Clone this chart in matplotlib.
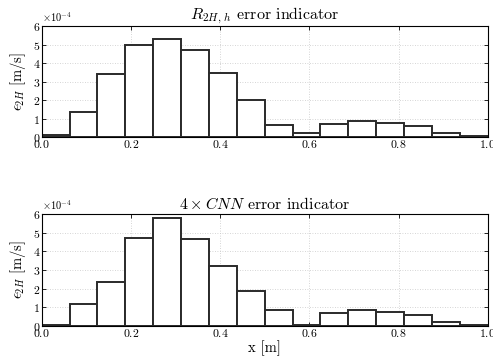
import numpy as np
import matplotlib
matplotlib.use("Agg")
import matplotlib.pyplot as plt

plt.rcParams.update({
    "font.family": "serif",
    "font.serif": ["cmr10", "DejaVu Serif"],
    "mathtext.fontset": "cm",
    "axes.formatter.use_mathtext": True,
    "axes.unicode_minus": True,
    "xtick.direction": "in",
    "ytick.direction": "in",
    "xtick.top": True,
    "ytick.right": True,
    "xtick.labelsize": 8.5,
    "ytick.labelsize": 8.5,
})

# Bin edges along x [m] (16 equal bins)
bin_edges = np.linspace(0.0, 1.0, 17)

# Error indicator per bin, in units of 1e-4 m/s
r2h_error = [0.09, 1.35, 3.40, 4.96, 5.32, 4.72, 3.44, 1.98,
             0.66, 0.24, 0.73, 0.85, 0.78, 0.62, 0.19, 0.06]
cnn_error = [0.04, 1.16, 2.36, 4.71, 5.83, 4.68, 3.21, 1.86,
             0.82, 0.04, 0.66, 0.82, 0.73, 0.57, 0.19, 0.04]

titles = [r"$R_{2H,\,h}$ error indicator", r"$4\times CNN$ error indicator"]
series = [r2h_error, cnn_error]

fig = plt.figure(figsize=(4.93, 3.58), dpi=100)
positions = [[0.0846, 0.6173, 0.9047, 0.310],
             [0.0846, 0.0902, 0.9047, 0.311]]

for pos, vals, title in zip(positions, series, titles):
    ax = fig.add_axes(pos)
    widths = np.diff(bin_edges)
    ax.bar(bin_edges[:-1], np.array(vals) * 1e-4, width=widths, align="edge",
           facecolor="white", edgecolor="#2a2a2a", linewidth=1.4, zorder=2)
    ax.set_xlim(0, 1)
    ax.set_ylim(0, 6e-4)
    ax.set_xticks([0.0, 0.2, 0.4, 0.6, 0.8, 1.0])
    ax.set_yticks(np.arange(0, 7) * 1e-4)
    ax.ticklabel_format(axis="y", style="sci", scilimits=(0, 0))
    ax.yaxis.get_offset_text().set_fontsize(7.5)
    ax.grid(True, linestyle=(0, (1, 2)), color="#c8c8c8", linewidth=0.6, zorder=0)
    ax.set_axisbelow(True)
    ax.set_title(title, fontsize=11.5, pad=4)
    ax.set_ylabel(r"$\epsilon_{2H}$ [m/s]", fontsize=10.5, labelpad=3)
    ax.tick_params(length=3, width=0.6, pad=1)
    for s in ax.spines.values():
        s.set_linewidth(0.8)

ax.set_xlabel("x [m]", fontsize=10.5, labelpad=1)

fig.savefig("out.png", dpi=100)
